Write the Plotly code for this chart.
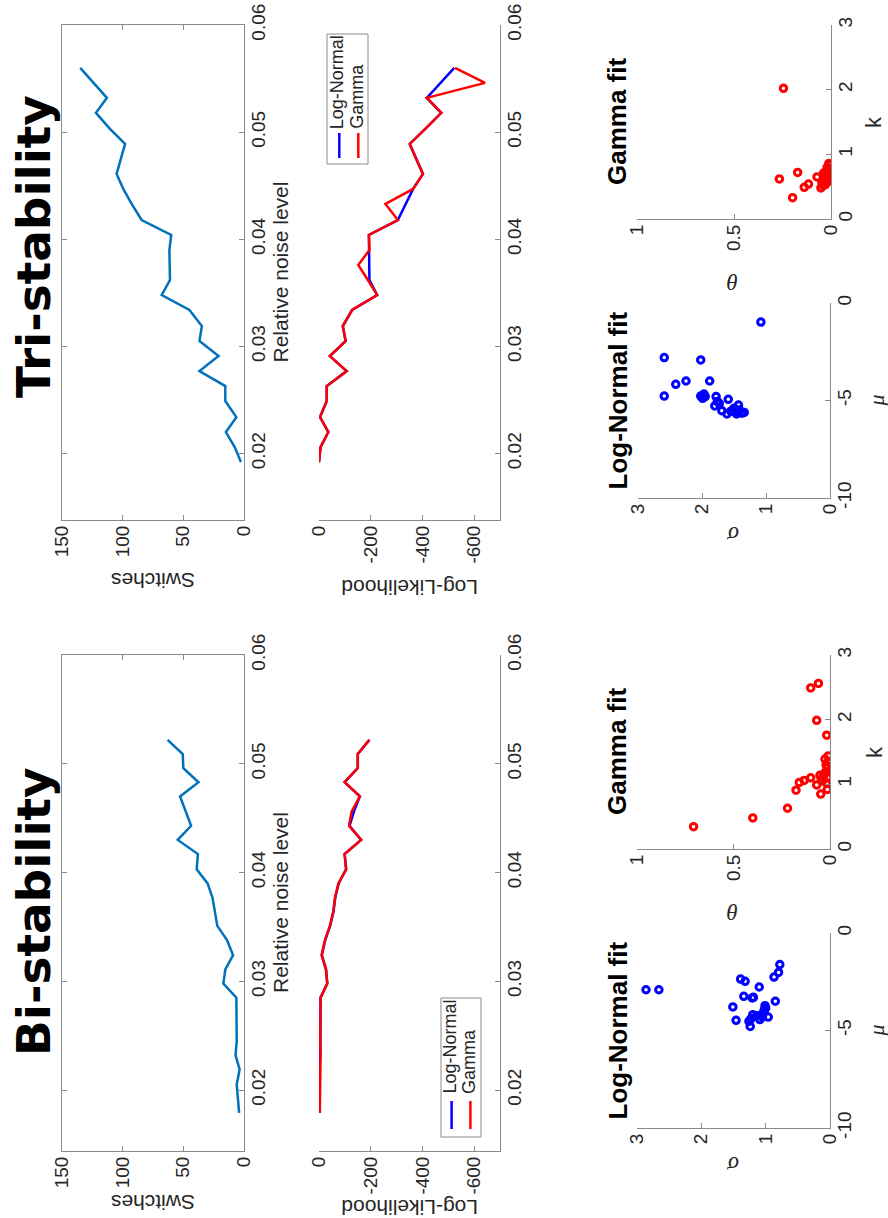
import plotly.graph_objects as go

W, H = 888, 1218

# ---------------- data ----------------
noise_bi = [0.0179, 0.0192, 0.0205, 0.0219, 0.0232, 0.0245, 0.0258, 0.0271, 0.0285,
            0.0298, 0.0311, 0.0324, 0.0338, 0.0351, 0.0364, 0.0377, 0.0390, 0.0403,
            0.0417, 0.0430, 0.0443, 0.0456, 0.0470, 0.0483, 0.0496, 0.0509, 0.0522]
switches_bi = [4, 5, 6, 3.6, 7, 6, 6, 6.3, 6.3, 17, 15.4, 9, 14, 22, 24, 26, 30, 39,
               38, 54.6, 43.6, 48, 52.7, 37.5, 50, 50.5, 63]
ll_gamma_bi = [-3, -4, -5, -4, -6, -5, -5, -6, -6, -32, -27, -10, -23, -42, -55, -62,
               -75, -105, -99, -163, -116, -126, -158, -99, -150, -150, -195]
ll_lognormal_bi = [-3, -3, -2, -2, -5, -5, -5, -6, -6, -32, -27, -11, -24, -43, -56, -63,
                   -76, -105, -99, -163, -118, -135, -158, -99, -150, -150, -195]

noise_tri = [0.0192, 0.0206, 0.0220, 0.0234, 0.0249, 0.0263, 0.0277, 0.0291, 0.0305,
             0.0319, 0.0334, 0.0348, 0.0362, 0.0376, 0.0390, 0.0404, 0.0418, 0.0433,
             0.0447, 0.0461, 0.0475, 0.0489, 0.0503, 0.0518, 0.0532, 0.0546, 0.0560]
switches_tri = [2.5, 7.7, 14.9, 6.3, 15.4, 15.4, 36.7, 21, 36.7, 34.7, 45, 67.8, 61,
                61.5, 61.5, 60, 84.4, 92.6, 99.5, 105, 101.7, 98, 110.5, 122, 113, 124, 135]
ll_gamma_tri = [0, -6, -36, -4, -30, -30, -107, -42, -103, -92, -128, -225, -189, -152,
                -195, -193, -305, -257, -364, -402, -376, -351, -411, -473, -417, -642, -526]
ll_lognormal_tri = [0, -6, -36, -4, -30, -30, -107, -42, -103, -92, -128, -225, -195, -195,
                    -195, -193, -305, -334, -364, -402, -376, -351, -411, -473, -417, -470, -523]

# log-normal fit parameters (sigma, mu) and gamma fit parameters (theta, k)
sigma_bi = [2.86, 2.66, 1.39, 1.32, 1.10, 0.78, 0.80, 0.87, 1.34, 1.21, 1.51, 0.85, 1.01, 1.02,
            1.06, 1.20, 0.96, 1.09, 1.46, 1.26, 1.24, 1.14, 1.03, 1.23, 1.05, 1.00, 1.19]
mu_bi = [-2.91, -2.91, -2.36, -2.48, -2.77, -1.62, -2.02, -2.26, -3.25, -3.33, -3.79, -3.50,
         -3.73, -3.93, -4.19, -4.19, -4.31, -4.44, -4.48, -4.53, -4.79, -4.24, -4.05, -4.40,
         -4.30, -3.85, -3.30]
theta_bi = [0.707, 0.40, 0.22, 0.176, 0.159, 0.134, 0.10, 0.069, 0.048, 0.014, 0.017, 0.052,
            0.034, 0.021, 0.014, 0.009, 0.026, 0.009, 0.017, 0.069, 0.10, 0.06, 0.04, 0.03,
            0.012, 0.02, 0.045]
k_bi = [0.345, 0.48, 0.63, 0.91, 1.03, 1.06, 1.10, 0.99, 0.85, 0.92, 1.02, 1.14, 1.12, 1.20,
        1.27, 1.35, 1.39, 1.44, 1.76, 1.99, 2.49, 2.56, 1.05, 1.16, 1.10, 1.30, 1.08]

sigma_tri = [1.08, 2.59, 2.02, 2.25, 2.41, 1.88, 2.59, 2.02, 1.97, 1.99, 1.78, 1.59, 1.80, 1.73,
             1.69, 1.61, 1.50, 1.46, 1.46, 1.41, 1.34, 1.43, 1.76, 1.95, 1.48, 1.55, 1.38]
mu_tri = [-0.98, -2.80, -2.92, -4.00, -4.17, -4.00, -4.77, -4.77, -4.67, -4.89, -4.80, -4.94,
          -5.28, -5.15, -5.52, -5.69, -5.40, -5.57, -5.69, -5.49, -5.61, -5.23, -5.05, -4.80,
          -5.45, -5.55, -5.65]
theta_tri = [0.245, 0.266, 0.172, 0.198, 0.138, 0.116, 0.072, 0.052, 0.047, 0.034, 0.024,
             0.021, 0.012, 0.007, 0.017, 0.029, 0.038, 0.010, 0.015, 0.02, 0.042, 0.03, 0.008,
             0.025, 0.018, 0.035, 0.011]
k_tri = [2.02, 0.62, 0.72, 0.33, 0.49, 0.54, 0.65, 0.48, 0.56, 0.60, 0.65, 0.73, 0.78, 0.84,
         0.58, 0.53, 0.71, 0.68, 0.62, 0.80, 0.52, 0.66, 0.74, 0.57, 0.70, 0.62, 0.86]

noise_ticks = [0.02, 0.03, 0.04, 0.05, 0.06]
noise_ticktext = ["0.02", "0.03", "0.04", "0.05", "0.06"]

# ---------------- style ----------------
FONT = "Liberation Sans"
AX = "#8a8a8a"
TXT = "#262626"
BLUE_LINE = "#0072BD"

fig = go.Figure()


def px_x(a):
    return a / W


def px_y(b):
    return 1 - b / H


def add_panel(i, x0, x1, top, bottom, xrange, xticks, xtext, yrange, yticks, ytext, mirror=False):
    sfx = "" if i == 1 else str(i)
    common = dict(showline=True, linecolor=AX, linewidth=1, ticks="inside", ticklen=5,
                  tickcolor=AX, showgrid=False, zeroline=False, tickangle=-90,
                  automargin=False, ticklabelstandoff=-3, ticklabeloverflow="allow",
                  tickfont=dict(family=FONT, size=19, color=TXT), fixedrange=True)
    if mirror:
        common["mirror"] = "ticks"
    fig.layout["xaxis" + sfx] = dict(domain=[px_x(x0), px_x(x1)], range=xrange,
                                     tickvals=xticks, ticktext=xtext, side="bottom",
                                     anchor="y" + sfx, **common)
    fig.layout["yaxis" + sfx] = dict(domain=[px_y(bottom), px_y(top)], range=yrange,
                                     tickvals=yticks, ticktext=ytext, side="right",
                                     anchor="x" + sfx, **common)
    return "x" + sfx, "y" + sfx


sw_ticks = [0, 50, 100, 150]
sw_text = ["0", "50", "100", "150"]
ll_ticks = [0, -200, -400, -600]
ll_text = ["0", "-200", "-400", "-600"]

# Bi-stability column
a1 = add_panel(1, 62, 244, 655, 1151, [150, 0], sw_ticks, sw_text,
               [0.0144, 0.06], noise_ticks, noise_ticktext, mirror=True)
a2 = add_panel(2, 319, 500, 655, 1151, [0, -700], ll_ticks, ll_text,
               [0.0144, 0.06], noise_ticks, noise_ticktext)
a3 = add_panel(3, 637, 830, 933, 1128, [3, 0], [0, 1, 2, 3], ["0", "1", "2", "3"],
               [-10, 0], [-10, -5, 0], ["-10", "-5", "0"])
a4 = add_panel(4, 637, 830, 655, 849, [1, 0], [0, 0.5, 1], ["0", "0.5", "1"],
               [0, 3], [0, 1, 2, 3], ["0", "1", "2", "3"])
# Tri-stability column
a5 = add_panel(5, 62, 244, 25, 520, [150, 0], sw_ticks, sw_text,
               [0.0138, 0.06], noise_ticks, noise_ticktext, mirror=True)
a6 = add_panel(6, 319, 500, 25, 520, [0, -700], ll_ticks, ll_text,
               [0.0138, 0.06], noise_ticks, noise_ticktext)
a7 = add_panel(7, 638, 830, 303, 498, [3, 0], [0, 1, 2, 3], ["0", "1", "2", "3"],
               [-10, 0], [-10, -5, 0], ["-10", "-5", "0"])
a8 = add_panel(8, 637, 831, 25, 219, [1, 0], [0, 0.5, 1], ["0", "0.5", "1"],
               [0, 3], [0, 1, 2, 3], ["0", "1", "2", "3"])


def line(ax, x, y, color):
    fig.add_trace(go.Scatter(x=x, y=y, xaxis=ax[0], yaxis=ax[1], mode="lines",
                             line=dict(color=color, width=2.5), showlegend=False,
                             hoverinfo="skip"))


def dots(ax, x, y, color):
    fig.add_trace(go.Scatter(x=x, y=y, xaxis=ax[0], yaxis=ax[1], mode="markers",
                             marker=dict(symbol="circle-open", size=6.5, color=color,
                                         line=dict(color=color, width=3)),
                             showlegend=False, hoverinfo="skip"))


line(a1, switches_bi, noise_bi, BLUE_LINE)
line(a2, ll_lognormal_bi, noise_bi, "#0000FF")
line(a2, ll_gamma_bi, noise_bi, "#FF0000")
dots(a3, sigma_bi, mu_bi, "#0000FF")
dots(a4, theta_bi, k_bi, "#FF0000")

line(a5, switches_tri, noise_tri, BLUE_LINE)
line(a6, ll_lognormal_tri, noise_tri, "#0000FF")
line(a6, ll_gamma_tri, noise_tri, "#FF0000")
dots(a7, sigma_tri, mu_tri, "#0000FF")
dots(a8, theta_tri, k_tri, "#FF0000")

annotations = []
shapes = []


def text(x, y, s, size, angle, family=FONT, color=TXT, xanchor="center", yanchor="middle"):
    annotations.append(dict(x=px_x(x), y=px_y(y), xref="paper", yref="paper", text=s,
                            showarrow=False, textangle=angle, xanchor=xanchor,
                            yanchor=yanchor, font=dict(family=family, size=size, color=color)))


# big column titles
text(33, 912, "<b>Bi-stability</b>", 47, -90, family="DejaVu Sans", color="black")
text(33, 247, "<b>Tri-stability</b>", 47, -90, family="DejaVu Sans", color="black")

# axis titles
for top, bottom, sw_y, ll_y in [(655, 1151, 1203, 1208), (25, 520, 581, 588)]:
    mid = (top + bottom) / 2
    text(280, mid, "Relative noise level", 21, -90)
    text(153, sw_y, "Switches", 21, 180)
    text(409.5, ll_y, "Log-Likelihood", 21, 180)

for top, bottom in [(933, 1128), (303, 498)]:
    text(617, (top + bottom) / 2, "<b>Log-Normal fit</b>", 26, -90, color="black")
    text(733, bottom + 37, "<i>σ</i>", 23, 180, family="Liberation Serif")
    text(876, (top + bottom) / 2, "<i>μ</i>", 22, -90, family="Liberation Serif")

for top, bottom in [(655, 849), (25, 219)]:
    text(617, (top + bottom) / 2, "<b>Gamma fit</b>", 26, -90, color="black")
    text(733, bottom + 63, "<i>θ</i>", 23, 180, family="Liberation Serif")
    text(874, (top + bottom) / 2, "k", 22, -90)


# hand-made legends (rotated like the rest of the figure)
def legend(x0, y0, x1, y1, lx1, lx2, ly0, ly1, text_bottom):
    shapes.append(dict(type="rect", xref="paper", yref="paper", x0=px_x(x0), x1=px_x(x1),
                       y0=px_y(y1), y1=px_y(y0), line=dict(color=AX, width=1),
                       fillcolor="white", layer="above"))
    for lx, col in [(lx1, "#0000FF"), (lx2, "#FF0000")]:
        shapes.append(dict(type="line", xref="paper", yref="paper", x0=px_x(lx), x1=px_x(lx),
                           y0=px_y(ly0), y1=px_y(ly1), line=dict(color=col, width=2.5),
                           layer="above"))
    text(lx1 - 2, text_bottom, "Log-Normal", 18, -90, yanchor="bottom")
    text(lx2 - 2, text_bottom, "Gamma", 18, -90, yanchor="bottom")


legend(441, 998, 481, 1137, 451.6, 470.4, 1101, 1129, 1096)
legend(327, 34, 368, 164, 339.3, 358.3, 133, 158, 131)

fig.update_layout(width=W, height=H, margin=dict(l=0, r=0, t=0, b=0),
                  paper_bgcolor="white", plot_bgcolor="white",
                  annotations=annotations, shapes=shapes, showlegend=False)

# drop the default 8px page margin so the figure sits at the window's corner
fig.write_html("out.html", config={"displayModeBar": False},
               post_script="document.body.style.margin='0';")
